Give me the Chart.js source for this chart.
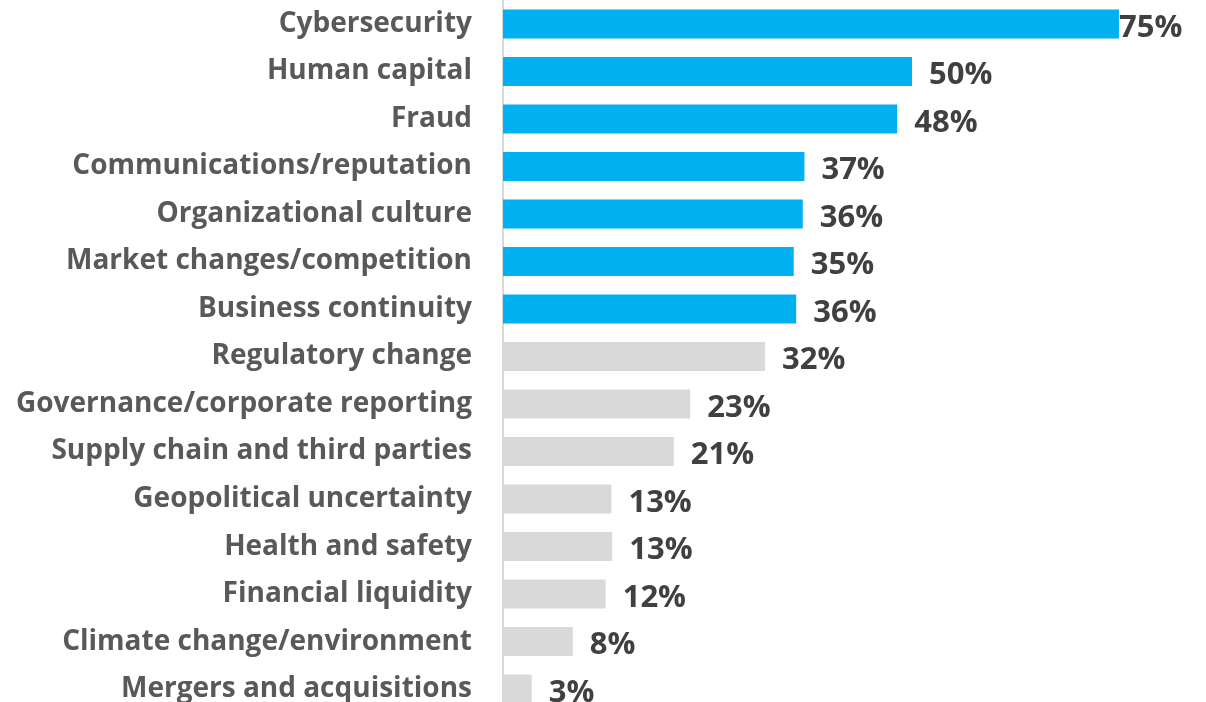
<!DOCTYPE html>
<html>
<head>
<meta charset="utf-8">
<script src="https://cdn.jsdelivr.net/npm/chart.js@4"></script>
<style>
  html, body { margin: 0; padding: 0; background: #ffffff; overflow: hidden; }
  #wrap { width: 1206px; height: 713px; position: relative; }
</style>
</head>
<body>
<div id="wrap"><canvas id="c" width="1206" height="713"></canvas></div>
<script>
const categories = [
  "Cybersecurity",
  "Human capital",
  "Fraud",
  "Communications/reputation",
  "Organizational culture",
  "Market changes/competition",
  "Business continuity",
  "Regulatory change",
  "Governance/corporate reporting",
  "Supply chain and third parties",
  "Geopolitical uncertainty",
  "Health and safety",
  "Financial liquidity",
  "Climate change/environment",
  "Mergers and acquisitions"
];
// bar lengths
const values = [75, 49.8, 48, 36.7, 36.5, 35.4, 35.7, 31.9, 22.8, 20.8, 13.2, 13.3, 12.5, 8.5, 3.5];
// printed labels
const valueLabels = ["75%", "50%", "48%", "37%", "36%", "35%", "36%", "32%", "23%", "21%", "13%", "13%", "12%", "8%", "3%"];
const highlighted = [true, true, true, true, true, true, true, false, false, false, false, false, false, false, false];

const BLUE = "#00B0F0";
const GREY = "#D9D9D9";

const valueLabelPlugin = {
  id: "valueLabels",
  afterDatasetsDraw(chart) {
    const ctx = chart.ctx;
    const meta = chart.getDatasetMeta(0);
    ctx.save();
    ctx.font = "bold 31px 'Open Sans'";
    ctx.fillStyle = "#404040";
    ctx.textBaseline = "middle";
    ctx.textAlign = "left";
    meta.data.forEach((bar, i) => {
      const txt = valueLabels[i];
      const w = ctx.measureText(txt).width;
      let x = bar.x + 17;
      const limit = chart.width - 24;
      if (x + w > limit) x = Math.max(bar.x, limit - w);
      ctx.fillText(txt, x, bar.y + 4);
    });
    ctx.restore();
  }
};

new Chart(document.getElementById("c"), {
  type: "bar",
  data: {
    labels: categories,
    datasets: [{
      data: values,
      backgroundColor: highlighted.map(h => h ? BLUE : GREY),
      borderWidth: 0,
      categoryPercentage: 1,
      barPercentage: 0.61
    }]
  },
  options: {
    indexAxis: "y",
    responsive: false,
    animation: false,
    layout: { padding: 0 },
    plugins: { legend: { display: false }, tooltip: { enabled: false } },
    scales: {
      x: {
        display: false,
        min: 0,
        max: 85.6
      },
      y: {
        afterFit(scale) { scale.width = 503; },
        grid: { display: false, drawTicks: true, tickLength: 31, tickColor: "rgba(0,0,0,0)" },
        border: { display: true, color: "#D9D9D9", width: 2 },
        ticks: {
          padding: 0,
          color: "#595959",
          font: { family: "'Open Sans'", weight: "bold", size: 28, lineHeight: 0.01 }
        }
      }
    }
  },
  plugins: [valueLabelPlugin]
});
</script>
</body>
</html>
